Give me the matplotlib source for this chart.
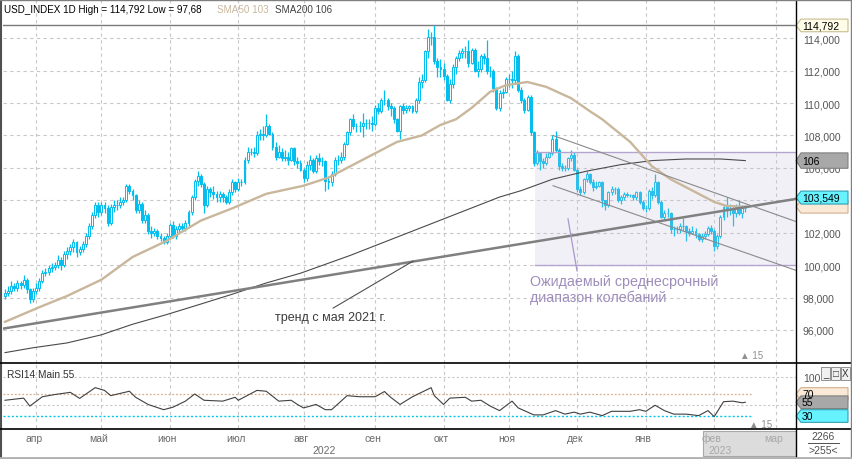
import matplotlib
matplotlib.use("Agg")
import matplotlib.pyplot as plt
import numpy as np
import pandas as pd
from matplotlib.patches import Polygon, Rectangle
from matplotlib.lines import Line2D
from matplotlib.transforms import blended_transform_factory

plt.rcParams['font.family'] = ['Liberation Sans', 'DejaVu Sans']

# USD_INDEX 1D, daily bars from 18.03.2022
first_open = 98.1
close = [
    # mar
    98.3, 98.4, 98.7, 98.6, 98.9, 98.8, 99.1, 98.5, 97.9, 98.4,
    # apr
    98.6, 99.0, 99.5, 99.6, 99.8, 99.9, 100.0, 100.3, 100.0, 100.7, 100.9,
    101.1, 101.4, 100.8, 101.0, 101.3, 101.8, 102.4, 103.1, 103.7, 103.3,
    # may
    103.7, 103.5, 102.6, 103.6, 103.7, 103.7, 103.9, 104.0, 104.9, 104.6, 104.3,
    103.4, 103.8, 102.8, 103.1, 102.1, 102.0, 102.1, 101.8, 101.7, 101.4, 101.8,
    # jun
    102.5, 101.8, 102.2, 102.4, 102.3, 102.6, 103.3, 104.2, 105.2, 105.5, 105.0,
    103.7, 104.7, 104.5, 104.4, 104.2, 104.4, 104.2, 103.9, 104.5, 105.1, 104.7,
    # jul
    105.1, 105.1, 106.5, 107.0, 107.0, 106.9, 108.0, 108.1, 108.0, 108.6, 108.1,
    107.3, 106.7, 107.0, 106.6, 106.7, 106.5, 107.2, 106.4, 106.3, 105.9,
    # aug
    105.4, 106.2, 106.5, 105.8, 106.6, 106.4, 106.4, 105.2, 105.1, 105.6, 106.5, 106.5,
    106.7, 107.5, 108.2, 109.0, 108.6, 108.6, 108.6, 108.8, 108.8, 108.8, 108.7,
    # sep
    109.7, 109.5, 110.2, 110.2, 109.8, 109.7, 109.0, 108.3, 109.8, 109.6, 109.7,
    109.8, 109.5, 110.2, 111.3, 111.4, 113.2, 114.1, 114.1, 112.6, 112.2, 112.1,
    # oct
    111.7, 110.2, 111.2, 112.2, 112.8, 113.1, 113.2, 113.2, 112.5, 113.3, 112.0,
    112.1, 112.9, 112.8, 112.0, 112.0, 110.9, 109.7, 110.6, 110.7, 111.5,
    # nov
    111.5, 111.4, 112.9, 110.8, 110.2, 109.6, 110.4, 108.2, 106.3, 106.9, 106.4,
    106.3, 106.7, 106.9, 107.8, 107.1, 106.1, 106.0, 106.0, 106.6, 106.8, 105.9,
    # dec
    104.7, 104.5, 105.3, 105.6, 105.1, 104.8, 104.9, 105.1, 104.0, 103.7, 104.5,
    104.7, 104.7, 104.0, 104.2, 104.4, 104.3, 104.3, 104.2, 104.5, 103.9, 103.5,
    # jan
    103.5, 104.6, 104.3, 105.1, 103.9, 103.0, 103.2, 103.2, 102.2, 102.2, 102.2,
    102.4, 102.4, 102.1, 102.0, 102.1, 101.9, 101.6, 101.8, 101.9, 102.3, 102.1,
    # feb
    101.2, 101.8, 103.0, 103.6, 103.4, 103.4, 103.2, 103.6, 103.2, 103.5, 103.549,
]
high = [
    98.5, 98.7, 99.0, 98.9, 99.1, 99.0, 99.4, 99.2, 98.6, 98.6,
    98.9, 99.2, 99.7, 99.8, 100.0, 100.1, 100.2, 100.6, 100.5, 100.9, 101.1,
    101.3, 101.6, 101.5, 101.2, 101.5, 102.0, 102.6, 103.3, 103.9, 103.9,
    103.9, 103.9, 103.7, 103.8, 104.0, 104.0, 104.2, 104.2, 105.0, 105.0, 104.7,
    104.4, 104.0, 103.9, 103.4, 103.2, 102.4, 102.3, 102.2, 102.0, 101.8, 102.0,
    102.6, 102.7, 102.4, 102.6, 102.6, 102.8, 103.4, 104.3, 105.3, 105.8, 105.6,
    105.1, 104.9, 104.8, 104.9, 104.6, 104.6, 104.5, 104.3, 104.7, 105.3, 105.2,
    105.4, 105.3, 106.7, 107.3, 107.2, 107.3, 108.3, 108.4, 108.6, 109.3, 108.7,
    108.2, 107.6, 107.4, 107.2, 107.1, 107.0, 107.3, 107.3, 106.7, 106.5,
    106.0, 106.4, 106.8, 106.6, 106.8, 106.9, 106.7, 106.5, 105.5, 105.8, 106.7, 106.8,
    107.0, 107.6, 108.3, 109.1, 109.3, 108.8, 108.9, 109.4, 109.0, 109.0, 109.2,
    109.9, 110.0, 110.3, 110.8, 110.3, 110.0, 109.8, 109.1, 109.9, 110.0, 109.9,
    109.9, 109.9, 110.3, 111.6, 111.8, 113.3, 114.6, 114.4, 114.792, 112.8, 112.7,
    112.5, 111.8, 111.5, 112.4, 112.9, 113.3, 113.4, 113.5, 113.9, 113.4, 113.4,
    112.6, 113.0, 113.1, 113.9, 112.3, 112.1, 111.0, 110.8, 110.9, 111.6,
    111.8, 112.0, 113.2, 113.0, 111.0, 110.3, 110.5, 110.5, 108.3, 107.1, 107.0,
    106.6, 106.9, 107.0, 108.0, 108.3, 107.2, 106.3, 106.2, 106.7, 107.1, 107.0,
    106.0, 104.9, 105.4, 105.8, 105.7, 105.3, 105.2, 105.2, 105.2, 104.0, 104.6,
    104.9, 104.8, 104.8, 104.3, 104.5, 104.5, 104.4, 104.4, 104.6, 104.6, 104.0,
    103.7, 104.7, 104.8, 105.6, 105.2, 104.0, 103.4, 103.5, 103.3, 102.4, 102.4,
    102.6, 102.9, 102.5, 102.3, 102.4, 102.3, 102.0, 102.0, 102.1, 102.4, 102.5,
    102.2, 101.9, 103.1, 103.7, 104.2, 103.8, 103.7, 103.8, 104.0, 103.7, 103.7,
]
low = [
    97.9, 98.1, 98.2, 98.4, 98.4, 98.5, 98.6, 98.3, 97.68, 97.7,
    98.2, 98.4, 98.9, 99.3, 99.4, 99.6, 99.7, 99.8, 99.7, 99.9, 100.4,
    100.6, 100.8, 100.5, 100.6, 100.8, 101.1, 101.6, 102.2, 102.9, 103.0,
    103.1, 103.2, 102.4, 102.5, 103.3, 103.4, 103.5, 103.7, 103.9, 104.4, 104.0,
    103.2, 103.2, 102.6, 102.6, 101.9, 101.7, 101.8, 101.6, 101.5, 101.3, 101.3,
    101.7, 101.7, 101.6, 102.0, 102.1, 102.1, 102.4, 103.1, 104.0, 104.9, 104.8,
    103.2, 103.6, 104.2, 104.1, 103.9, 103.9, 103.9, 103.8, 103.8, 104.3, 104.5,
    104.6, 104.9, 105.0, 106.3, 106.8, 106.7, 106.8, 107.7, 107.7, 107.9, 108.0,
    107.1, 106.5, 106.6, 106.4, 106.4, 106.2, 106.4, 106.2, 106.0, 105.8,
    105.1, 105.2, 105.9, 105.7, 105.7, 106.2, 106.1, 104.6, 104.7, 104.9, 105.5, 106.2,
    106.3, 106.5, 107.4, 108.0, 108.4, 108.2, 108.2, 107.9, 108.4, 108.4, 108.3,
    108.6, 109.3, 109.4, 109.9, 109.6, 109.2, 108.8, 108.2, 107.8, 109.3, 109.4,
    109.5, 109.4, 109.4, 110.0, 110.9, 111.3, 112.8, 113.6, 112.4, 111.6, 111.6,
    111.4, 110.1, 110.0, 110.9, 111.8, 112.6, 112.8, 112.8, 112.2, 112.4, 111.9,
    111.6, 111.9, 112.4, 111.8, 111.6, 110.7, 109.6, 109.5, 110.3, 110.6,
    111.0, 110.9, 111.2, 110.7, 110.0, 109.4, 109.5, 108.0, 106.1, 106.2, 105.9,
    106.0, 106.2, 106.6, 106.8, 107.0, 105.9, 105.8, 105.8, 105.9, 106.4, 105.8,
    104.5, 104.3, 104.4, 105.1, 105.0, 104.6, 104.7, 104.8, 103.6, 103.4, 103.6,
    104.3, 104.4, 103.9, 103.8, 104.0, 104.2, 104.2, 104.0, 104.0, 103.8, 103.4,
    103.3, 103.4, 104.1, 104.2, 103.8, 102.9, 102.8, 103.0, 102.0, 101.8, 102.0,
    102.0, 102.1, 101.5, 101.8, 101.9, 101.7, 101.5, 101.4, 101.6, 101.8, 101.9,
    100.9, 101.0, 101.7, 102.8, 103.0, 103.1, 102.4, 103.0, 103.1, 102.9, 103.3,
]

# moving averages (bar index, value)
sma50_idx = [0, 11, 20, 31, 41, 52, 63, 73, 84, 96, 104, 111, 119, 126, 134, 140, 145,
             150, 156, 161, 168, 174, 182, 188, 192, 201, 208, 214, 221, 228, 232, 238]
sma50_val = [96.5, 97.4, 98.1, 99.1, 100.5, 101.5, 102.75, 103.5, 104.4, 104.9, 105.4,
             106.1, 106.9, 107.6, 108.0, 108.65, 109.0, 109.7, 110.7, 111.1, 111.3, 111.0,
             110.3, 109.5, 109.0, 107.6, 106.1, 105.3, 104.6, 103.9, 103.65, 103.6]
sma200_idx = [0, 9, 20, 31, 41, 52, 63, 73, 84, 95, 111, 127, 143, 159, 166, 176, 187,
              198, 208, 219, 230, 238]
sma200_val = [94.6, 94.9, 95.2, 95.7, 96.35, 96.95, 97.6, 98.2, 98.9, 99.5, 100.6, 101.8,
              103.0, 104.2, 104.6, 105.3, 105.8, 106.2, 106.45, 106.55, 106.55, 106.45]

# RSI14
rsi_idx = [0, 6, 8, 12, 16, 21, 24, 29, 32, 34, 40, 42, 46, 51, 54, 58, 61, 64, 70, 74,
           75, 81, 84, 88, 92, 94, 96, 100, 103, 105, 110, 114, 119, 122, 124, 127, 131, 137,
           138, 141, 143, 148, 150, 153, 156, 159, 163, 165, 170, 173, 177, 180, 183, 185,
           188, 192, 195, 201, 204, 206, 209, 212, 215, 219, 223, 226, 228, 231, 234, 237, 238]
rsi_val = [58.6, 62.5, 48, 65, 69, 73, 62, 81.5, 76.5, 67, 75, 64, 51, 41.5, 46, 57, 70,
           58.6, 57, 64, 58.6, 76.5, 75, 57, 58.6, 51, 44.7, 51, 41.5, 41.5, 67, 65, 65, 74.5,
           64, 51, 65, 81.5, 67, 51, 62.5, 64, 57, 58.6, 48, 39.8, 57, 44.7, 32, 32, 39.8,
           33.4, 37, 33.4, 37, 30.7, 38.5, 38.5, 41.5, 38.5, 49.5, 39.8, 33.4, 33.4, 30.7,
           39.8, 28.8, 56, 57, 54, 55]

# drawn objects
trend_x = [-1.6, 254.7]
trend_y = [96.05, 104.1]
chan_x = [176.2, 254.7]
chan_up = [108.0, 102.66]
chan_dn = [104.9, 99.65]
box_x = [170.4, 254.7]
box_y = [100.0, 107.0]
hi_level = 114.792
lo_level = 97.68
price_ticks = [96, 98, 100, 102, 104, 106, 108, 110, 112, 114]
months_ru = ['янв', 'фев', 'мар', 'апр', 'май', 'июн', 'июл', 'авг', 'сен', 'окт', 'ноя', 'дек']

CYAN = '#00BEEE'
TAN = '#C9B79C'
GRID = '#C8C8C8'
W, H = 852, 460


def fx(px):
    return px / W


def fy(py):
    return 1 - py / H


fig = plt.figure(figsize=(W / 100, H / 100), dpi=100)
fig.patch.set_facecolor('white')

XL = (-0.64, 254.3)
ax = fig.add_axes([fx(3), fy(364), 793 / W, 363 / H])
ax2 = fig.add_axes([fx(3), fy(429), 793 / W, 64 / H])
ax3 = fig.add_axes([fx(3), fy(458), 793 / W, 27 / H])

n = len(close)
xi = np.arange(n)
c = np.array(close)
o = np.array([first_open] + close[:-1])
up = c >= o

cal = pd.bdate_range('2022-03-18', '2023-03-31')
mstarts = [i for i in range(1, len(cal)) if cal[i].month != cal[i - 1].month]

# ---- main panel
ax.set_xlim(*XL)
ax.set_ylim(93.96, 116.36)
for s in ax.spines.values():
    s.set_visible(False)
ax.set_xticks([])
ax.yaxis.tick_right()
ax.set_yticks(price_ticks)
ax.set_yticklabels([f"{v:.3f}".replace('.', ',') for v in price_ticks])
ax.tick_params(axis='y', length=0, pad=5, labelsize=7.5, labelcolor='#555555')
for p in price_ticks:
    ax.axhline(p, color=GRID, lw=0.8, ls=(0, (3, 3)), zorder=0)
for m in mstarts:
    ax.axvline(m, color=GRID, lw=0.8, ls=(0, (3, 3)), zorder=0)

ax.axhline(hi_level, color='#7A7A7A', lw=1.0, zorder=1)

ax.vlines(xi, low, high, color=CYAN, lw=0.9, zorder=2)
ax.bar(xi, np.abs(c - o), bottom=np.minimum(o, c), width=0.62,
       color=np.where(up, 'white', CYAN), edgecolor=CYAN, lw=0.7, zorder=3)

# expected range box
ax.add_patch(Rectangle((box_x[0], box_y[0]), box_x[1] - box_x[0], box_y[1] - box_y[0],
                       facecolor='#C8BFDC', alpha=0.22, edgecolor='none', zorder=4))
ax.plot(box_x, [box_y[0]] * 2, color='#B4A4D0', lw=1.0, zorder=5)
ax.plot(box_x, [box_y[1]] * 2, color='#B4A4D0', lw=1.0, zorder=5)

ax.plot(sma200_idx, sma200_val, color='#4A4A4A', lw=0.8, zorder=6)
ax.plot(sma50_idx, sma50_val, color=TAN, lw=1.7, zorder=6)
ax.plot(trend_x, trend_y, color='#808080', lw=1.8, zorder=6)
ax.plot(chan_x, chan_up, color='#8A8A8A', lw=0.8, zorder=6)
ax.plot(chan_x, chan_dn, color='#8A8A8A', lw=0.8, zorder=6)

ax.text(168.8, 99.45, "Ожидаемый среднесрочный\nдиапазон колебаний", color='#9D8DBB',
        fontsize=10.3, va='top', ha='left', linespacing=1.12, zorder=7)
ax.plot([181, 183.9], [102.85, 99.64], color='#A898C8', lw=0.9, zorder=7)
ax.text(86.8, 96.78, "тренд с мая 2021 г.", color='#3C3C3C', fontsize=9, va='center',
        ha='left', zorder=7)
ax.plot([105.5, 131.2], [97.35, 100.25], color='#505050', lw=0.8, zorder=7)
ax.text(236.3, 94.45, "▲ 15", color='#909090', fontsize=7, va='center', ha='left')


def tag(axis, yval, text, face, edge, h):
    tr = blended_transform_factory(axis.transAxes, axis.transData)
    w = 52 / 793
    tip = 5 / 793
    pts = [(1.0, yval), (1.0 + tip, yval + h / 2), (1.0 + w, yval + h / 2),
           (1.0 + w, yval - h / 2), (1.0 + tip, yval - h / 2)]
    axis.add_patch(Polygon(pts, closed=True, transform=tr, facecolor=face, edgecolor=edge,
                           lw=0.8, clip_on=False, zorder=20))
    axis.text(1.0 + tip + 1 / 793, yval, text, transform=tr, ha='left', va='center',
              fontsize=7.5, color='black', clip_on=False, zorder=21)


tag(ax, hi_level, f"{hi_level:.3f}".replace('.', ','), '#FFFDE8', '#C8BC90', 0.78)
tag(ax, sma200_val[-1], f"{sma200_val[-1]:.0f}", '#A8A8A8', '#808080', 0.95)
tag(ax, sma50_val[-1], "", '#FBE9D8', '#D0B090', 0.78)
tag(ax, close[-1] + 0.62, f"{close[-1]:.3f}".replace('.', ','), '#66F2FF', '#30A0B0', 0.8)

# ---- RSI panel
ax2.set_xlim(*XL)
ax2.set_ylim(8.2, 124.5)
for s in ax2.spines.values():
    s.set_visible(False)
ax2.set_xticks([])
ax2.yaxis.tick_right()
ax2.set_yticks([100])
ax2.set_yticklabels(['100'])
ax2.tick_params(axis='y', length=0, pad=5, labelsize=7.5, labelcolor='#555555')
for m in mstarts:
    ax2.axvline(m, color=GRID, lw=0.8, ls=(0, (3, 3)), zorder=0)
ax2.axhline(100, color=GRID, lw=0.8, ls=(0, (2, 2)), zorder=0)
ax2.axhline(50, color=GRID, lw=0.8, ls=(0, (2, 2)), zorder=0)
ax2.plot([XL[0], n + 1], [70, 70], color='#D9AE8A', lw=0.9, ls=(0, (1.5, 1.5)), zorder=1)
ax2.plot([XL[0], n + 1], [30, 30], color='#00C8E8', lw=1.0, ls=(0, (1.5, 1.5)), zorder=1)
ax2.plot(rsi_idx, rsi_val, color='#404040', lw=0.8, zorder=3)
ax2.text(0.005, 0.84, "RSI14 Main 55", transform=ax2.transAxes, fontsize=7.3,
         color='#333333', va='center')
ax2.text(239.2, 15, "▲ 15", color='#909090', fontsize=7, va='center', ha='left')
tag(ax2, 70, "70", '#FBE9D8', '#D0B090', 23)
tag(ax2, 55, "55", '#A8A8A8', '#808080', 23)
tag(ax2, 30, "30", '#66F2FF', '#30A0B0', 23)

# ---- time axis
ax3.set_xlim(*XL)
ax3.set_ylim(0, 1)
ax3.axis('off')
ax3.add_patch(Rectangle((224.4, 0.02), XL[1] - 224.4, 0.96, facecolor='#DCDCDC',
                        edgecolor='#A8A8A8', lw=0.8, zorder=0))
for m in mstarts:
    lab = months_ru[cal[m].month - 1]
    col = '#A8A8A8' if m > 224 else '#6A6A6A'
    ax3.text(m - 0.8, 0.72, lab, ha='center', va='center', fontsize=7.5, color=col,
             clip_on=True)
vis = np.arange(0, int(XL[1]) + 1)
yrs = np.array([cal[i].year for i in vis])
ax3.text(vis[yrs == 2022].mean(), 0.25, "2022", ha='center', va='center', fontsize=7.5,
         color='#6A6A6A')
ax3.text(vis[yrs == 2023].mean(), 0.25, "2023", ha='center', va='center', fontsize=7.5,
         color='#A8A8A8')

# ---- title
fig.text(fx(4), fy(10), "USD_INDEX 1D High = 114,792 Low = 97,68", fontsize=7.1,
         color='black', va='center')
fig.text(fx(217), fy(10), "SMA50 103", fontsize=7.1, color=TAN, va='center')
fig.text(fx(275), fy(10), "SMA200 106", fontsize=7.1, color='#404040', va='center')

# ---- right-bottom counters
fig.text(fx(823), fy(437), "2266", fontsize=7.5, color='#505050', ha='center', va='center')
fig.text(fx(823), fy(451), ">255<", fontsize=7.5, color='#505050', ha='center', va='center')
fig.add_artist(Line2D([fx(808), fx(839)], [fy(444), fy(444)], color='#505050', lw=0.7))

# window buttons on RSI panel
for k, sym in enumerate(['_', '□', 'X']):
    x0 = 821 + k * 10
    fig.add_artist(Rectangle((fx(x0), fy(381)), 9 / W, 13 / H, facecolor='#F0F0F0',
                             edgecolor='#808080', lw=0.6))
    fig.text(fx(x0 + 4.5), fy(374.5), sym, fontsize=7, ha='center', va='center',
             color='#333333')

# ---- frame lines
for (x0, y0, x1, y1, col, lw) in [
    (0.5, 0, 0.5, 460, '#505050', 1.5),
    (796, 0, 796, 458, 'black', 1.0),
    (0, 364, 852, 364, 'black', 1.2),
    (0, 429.5, 852, 429.5, 'black', 1.2),
    (0, 0.5, 852, 0.5, '#808080', 1.0),
    (851, 0, 851, 460, '#808080', 1.0),
    (0, 459, 852, 459, '#B0B0B0', 2.0),
]:
    fig.add_artist(Line2D([fx(x0), fx(x1)], [fy(y0), fy(y1)], color=col, lw=lw))

fig.savefig("out.png", dpi=100)
